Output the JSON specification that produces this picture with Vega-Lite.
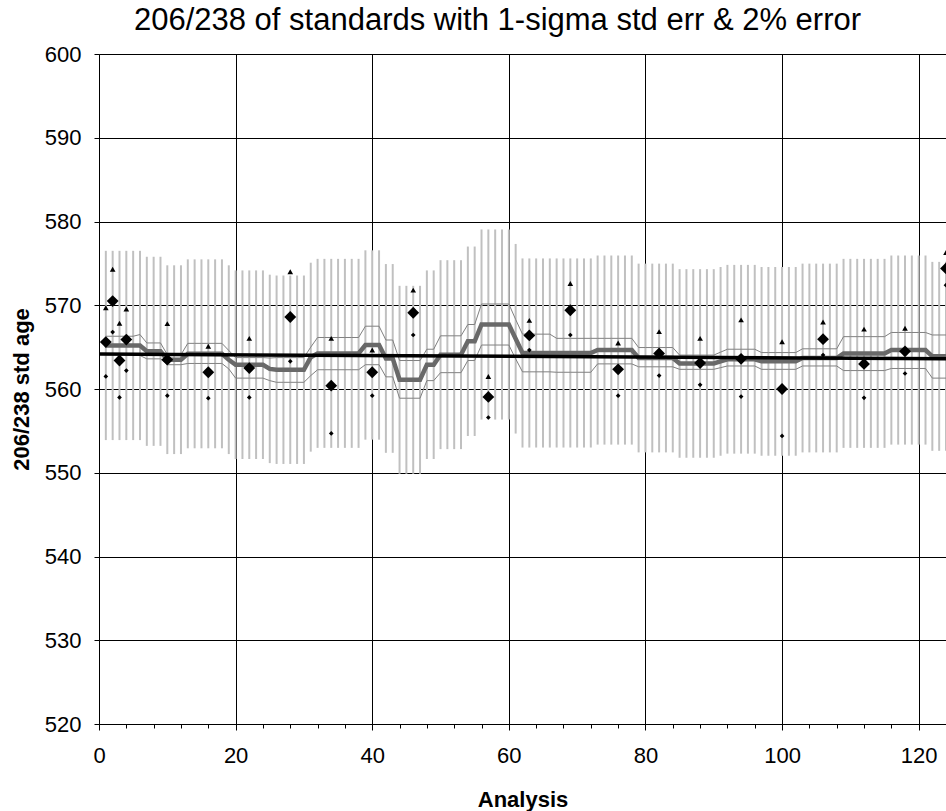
{
  "$schema": "https://vega.github.io/schema/vega-lite/v6.json",
  "width": 847,
  "height": 670,
  "autosize": "none",
  "padding": {"left": 99, "top": 54, "right": 0, "bottom": 87},
  "background": "white",
  "config": {
    "view": {"stroke": "#808080", "strokeWidth": 1},
    "font": "Liberation Sans",
    "axisY": {
      "labelFont": "Liberation Sans",
      "labelFontSize": 22,
      "labelColor": "black",
      "labelPadding": 13,
      "tickColor": "black",
      "tickSize": 5,
      "domainColor": "black",
      "domainWidth": 1,
      "grid": true,
      "gridColor": "black",
      "gridOpacity": 1,
      "gridWidth": 1,
      "titleFont": "Liberation Sans",
      "titleFontSize": 22,
      "titleFontWeight": "bold",
      "titleColor": "black",
      "titlePadding": 11
    }
  },
  "title": {
    "text": "206/238 of standards with 1-sigma std err & 2% error",
    "font": "Liberation Sans",
    "fontSize": 31,
    "fontWeight": "normal",
    "color": "black",
    "anchor": "middle",
    "dx": -25,
    "offset": 6
  },
  "datasets": {
    "s": [
      {"a":1,"m":565.2,"u":566.3,"l":564.1,"lo":553.9,"hi":576.5},
      {"a":2,"m":565.2,"u":566.3,"l":564.1,"lo":553.9,"hi":576.5},
      {"a":3,"m":565.2,"u":566.3,"l":564.1,"lo":553.9,"hi":576.5},
      {"a":4,"m":565.2,"u":566.3,"l":564.1,"lo":553.9,"hi":576.5},
      {"a":5,"m":565.2,"u":566.3,"l":564.1,"lo":553.9,"hi":576.5},
      {"a":6,"m":565.2,"u":566.5,"l":564.0,"lo":553.9,"hi":576.5},
      {"a":7,"m":564.5,"u":565.5,"l":563.6,"lo":553.21,"hi":575.79},
      {"a":8,"m":564.5,"u":565.5,"l":563.6,"lo":553.21,"hi":575.79},
      {"a":9,"m":564.5,"u":565.5,"l":563.6,"lo":553.21,"hi":575.79},
      {"a":10,"m":563.5,"u":564.1,"l":562.9,"lo":552.23,"hi":574.77},
      {"a":11,"m":563.5,"u":564.1,"l":562.9,"lo":552.23,"hi":574.77},
      {"a":12,"m":563.5,"u":564.1,"l":562.9,"lo":552.23,"hi":574.77},
      {"a":13,"m":564.2,"u":565.45,"l":563.05,"lo":552.92,"hi":575.48},
      {"a":14,"m":564.2,"u":565.45,"l":563.05,"lo":552.92,"hi":575.48},
      {"a":15,"m":564.2,"u":565.45,"l":563.05,"lo":552.92,"hi":575.48},
      {"a":16,"m":564.2,"u":565.45,"l":563.05,"lo":552.92,"hi":575.48},
      {"a":17,"m":564.2,"u":565.45,"l":563.05,"lo":552.92,"hi":575.48},
      {"a":18,"m":564.2,"u":565.45,"l":563.05,"lo":552.92,"hi":575.48},
      {"a":19,"m":563.5,"u":564.6,"l":562.4,"lo":552.23,"hi":574.77},
      {"a":20,"m":562.9,"u":563.75,"l":561.3,"lo":551.64,"hi":574.16},
      {"a":21,"m":562.9,"u":563.75,"l":561.3,"lo":551.64,"hi":574.16},
      {"a":22,"m":562.9,"u":563.75,"l":561.3,"lo":551.64,"hi":574.16},
      {"a":23,"m":562.9,"u":563.75,"l":561.3,"lo":551.64,"hi":574.16},
      {"a":24,"m":562.9,"u":563.75,"l":561.3,"lo":551.64,"hi":574.16},
      {"a":25,"m":562.4,"u":563.7,"l":561.0,"lo":551.15,"hi":573.65},
      {"a":26,"m":562.3,"u":563.75,"l":560.8,"lo":551.05,"hi":573.55},
      {"a":27,"m":562.3,"u":563.75,"l":560.8,"lo":551.05,"hi":573.55},
      {"a":28,"m":562.3,"u":563.75,"l":560.8,"lo":551.05,"hi":573.55},
      {"a":29,"m":562.3,"u":563.75,"l":560.8,"lo":551.05,"hi":573.55},
      {"a":30,"m":562.3,"u":563.75,"l":560.8,"lo":551.05,"hi":573.55},
      {"a":31,"m":563.8,"u":565.0,"l":561.6,"lo":552.52,"hi":575.08},
      {"a":32,"m":564.25,"u":566.15,"l":562.3,"lo":552.97,"hi":575.54},
      {"a":33,"m":564.25,"u":566.15,"l":562.3,"lo":552.97,"hi":575.54},
      {"a":34,"m":564.25,"u":566.15,"l":562.3,"lo":552.97,"hi":575.54},
      {"a":35,"m":564.25,"u":566.15,"l":562.3,"lo":552.97,"hi":575.54},
      {"a":36,"m":564.25,"u":566.15,"l":562.3,"lo":552.97,"hi":575.54},
      {"a":37,"m":564.25,"u":566.15,"l":562.3,"lo":552.97,"hi":575.54},
      {"a":38,"m":564.25,"u":566.15,"l":562.3,"lo":552.97,"hi":575.54},
      {"a":39,"m":565.25,"u":567.5,"l":562.9,"lo":553.95,"hi":576.56},
      {"a":40,"m":565.25,"u":567.5,"l":562.9,"lo":553.95,"hi":576.56},
      {"a":41,"m":565.25,"u":567.5,"l":562.9,"lo":553.95,"hi":576.56},
      {"a":42,"m":563.65,"u":565.85,"l":561.45,"lo":552.38,"hi":574.92},
      {"a":43,"m":563.65,"u":565.85,"l":561.45,"lo":552.38,"hi":574.92},
      {"a":44,"m":561.1,"u":563.4,"l":558.9,"lo":549.88,"hi":572.32},
      {"a":45,"m":561.1,"u":563.4,"l":558.9,"lo":549.88,"hi":572.32},
      {"a":46,"m":561.1,"u":563.4,"l":558.9,"lo":549.88,"hi":572.32},
      {"a":47,"m":561.1,"u":563.4,"l":558.9,"lo":549.88,"hi":572.32},
      {"a":48,"m":562.9,"u":564.75,"l":561.0,"lo":551.64,"hi":574.16},
      {"a":49,"m":562.9,"u":564.75,"l":561.0,"lo":551.64,"hi":574.16},
      {"a":50,"m":564.1,"u":566.35,"l":561.95,"lo":552.82,"hi":575.38},
      {"a":51,"m":564.1,"u":566.35,"l":561.95,"lo":552.82,"hi":575.38},
      {"a":52,"m":564.1,"u":566.35,"l":561.95,"lo":552.82,"hi":575.38},
      {"a":53,"m":564.1,"u":566.35,"l":561.95,"lo":552.82,"hi":575.38},
      {"a":54,"m":565.7,"u":567.7,"l":563.4,"lo":554.39,"hi":577.01},
      {"a":55,"m":565.7,"u":567.7,"l":563.4,"lo":554.39,"hi":577.01},
      {"a":56,"m":567.7,"u":570.15,"l":565.25,"lo":556.35,"hi":579.05},
      {"a":57,"m":567.7,"u":570.15,"l":565.25,"lo":556.35,"hi":579.05},
      {"a":58,"m":567.7,"u":570.15,"l":565.25,"lo":556.35,"hi":579.05},
      {"a":59,"m":567.7,"u":570.15,"l":565.25,"lo":556.35,"hi":579.05},
      {"a":60,"m":567.7,"u":570.15,"l":565.25,"lo":556.35,"hi":579.05},
      {"a":61,"m":566.0,"u":568.3,"l":563.6,"lo":554.68,"hi":577.32},
      {"a":62,"m":564.3,"u":566.55,"l":562.05,"lo":553.01,"hi":575.59},
      {"a":63,"m":564.3,"u":566.55,"l":562.05,"lo":553.01,"hi":575.59},
      {"a":64,"m":564.3,"u":566.55,"l":562.05,"lo":553.01,"hi":575.59},
      {"a":65,"m":564.3,"u":566.55,"l":562.05,"lo":553.01,"hi":575.59},
      {"a":66,"m":564.3,"u":566.55,"l":562.05,"lo":553.01,"hi":575.59},
      {"a":67,"m":564.3,"u":566.05,"l":562.0,"lo":553.01,"hi":575.59},
      {"a":68,"m":564.3,"u":566.05,"l":562.0,"lo":553.01,"hi":575.59},
      {"a":69,"m":564.3,"u":566.05,"l":562.0,"lo":553.01,"hi":575.59},
      {"a":70,"m":564.3,"u":566.05,"l":562.0,"lo":553.01,"hi":575.59},
      {"a":71,"m":564.3,"u":566.05,"l":562.0,"lo":553.01,"hi":575.59},
      {"a":72,"m":564.3,"u":566.05,"l":562.0,"lo":553.01,"hi":575.59},
      {"a":73,"m":564.65,"u":566.05,"l":563.0,"lo":553.36,"hi":575.94},
      {"a":74,"m":564.65,"u":566.05,"l":563.0,"lo":553.36,"hi":575.94},
      {"a":75,"m":564.65,"u":566.05,"l":563.0,"lo":553.36,"hi":575.94},
      {"a":76,"m":564.65,"u":566.05,"l":563.0,"lo":553.36,"hi":575.94},
      {"a":77,"m":564.65,"u":566.05,"l":563.0,"lo":553.36,"hi":575.94},
      {"a":78,"m":564.65,"u":566.05,"l":563.0,"lo":553.36,"hi":575.94},
      {"a":79,"m":563.7,"u":564.95,"l":562.65,"lo":552.43,"hi":574.97},
      {"a":80,"m":563.7,"u":564.95,"l":562.65,"lo":552.43,"hi":574.97},
      {"a":81,"m":563.7,"u":564.95,"l":562.65,"lo":552.43,"hi":574.97},
      {"a":82,"m":563.7,"u":564.95,"l":562.65,"lo":552.43,"hi":574.97},
      {"a":83,"m":563.7,"u":564.95,"l":562.65,"lo":552.43,"hi":574.97},
      {"a":84,"m":563.7,"u":564.95,"l":562.65,"lo":552.43,"hi":574.97},
      {"a":85,"m":563.05,"u":564.05,"l":562.35,"lo":551.79,"hi":574.31},
      {"a":86,"m":563.05,"u":564.05,"l":562.35,"lo":551.79,"hi":574.31},
      {"a":87,"m":563.05,"u":564.05,"l":562.35,"lo":551.79,"hi":574.31},
      {"a":88,"m":563.05,"u":564.05,"l":562.35,"lo":551.79,"hi":574.31},
      {"a":89,"m":563.05,"u":564.05,"l":562.35,"lo":551.79,"hi":574.31},
      {"a":90,"m":563.05,"u":564.05,"l":562.35,"lo":551.79,"hi":574.31},
      {"a":91,"m":563.3,"u":564.4,"l":562.55,"lo":552.03,"hi":574.57},
      {"a":92,"m":563.55,"u":564.75,"l":562.75,"lo":552.28,"hi":574.82},
      {"a":93,"m":563.55,"u":564.75,"l":562.75,"lo":552.28,"hi":574.82},
      {"a":94,"m":563.55,"u":564.75,"l":562.75,"lo":552.28,"hi":574.82},
      {"a":95,"m":563.55,"u":564.75,"l":562.75,"lo":552.28,"hi":574.82},
      {"a":96,"m":563.55,"u":564.75,"l":562.75,"lo":552.28,"hi":574.82},
      {"a":97,"m":563.3,"u":564.35,"l":562.35,"lo":552.03,"hi":574.57},
      {"a":98,"m":563.3,"u":564.35,"l":562.35,"lo":552.03,"hi":574.57},
      {"a":99,"m":563.3,"u":564.35,"l":562.35,"lo":552.03,"hi":574.57},
      {"a":100,"m":563.3,"u":564.35,"l":562.35,"lo":552.03,"hi":574.57},
      {"a":101,"m":563.3,"u":564.35,"l":562.35,"lo":552.03,"hi":574.57},
      {"a":102,"m":563.3,"u":564.35,"l":562.35,"lo":552.03,"hi":574.57},
      {"a":103,"m":563.7,"u":564.8,"l":562.75,"lo":552.43,"hi":574.97},
      {"a":104,"m":563.7,"u":564.8,"l":562.75,"lo":552.43,"hi":574.97},
      {"a":105,"m":563.7,"u":564.8,"l":562.75,"lo":552.43,"hi":574.97},
      {"a":106,"m":563.7,"u":564.8,"l":562.75,"lo":552.43,"hi":574.97},
      {"a":107,"m":563.7,"u":564.8,"l":562.75,"lo":552.43,"hi":574.97},
      {"a":108,"m":563.7,"u":564.8,"l":562.75,"lo":552.43,"hi":574.97},
      {"a":109,"m":564.25,"u":566.25,"l":562.2,"lo":552.97,"hi":575.54},
      {"a":110,"m":564.25,"u":566.25,"l":562.2,"lo":552.97,"hi":575.54},
      {"a":111,"m":564.25,"u":566.25,"l":562.2,"lo":552.97,"hi":575.54},
      {"a":112,"m":564.25,"u":566.25,"l":562.2,"lo":552.97,"hi":575.54},
      {"a":113,"m":564.25,"u":566.25,"l":562.2,"lo":552.97,"hi":575.54},
      {"a":114,"m":564.25,"u":566.25,"l":562.2,"lo":552.97,"hi":575.54},
      {"a":115,"m":564.25,"u":566.25,"l":562.2,"lo":552.97,"hi":575.54},
      {"a":116,"m":564.65,"u":566.75,"l":562.45,"lo":553.36,"hi":575.94},
      {"a":117,"m":564.65,"u":566.75,"l":562.45,"lo":553.36,"hi":575.94},
      {"a":118,"m":564.65,"u":566.75,"l":562.45,"lo":553.36,"hi":575.94},
      {"a":119,"m":564.65,"u":566.75,"l":562.45,"lo":553.36,"hi":575.94},
      {"a":120,"m":564.65,"u":566.75,"l":562.45,"lo":553.36,"hi":575.94},
      {"a":121,"m":564.65,"u":566.75,"l":562.45,"lo":553.36,"hi":575.94},
      {"a":122,"m":563.9,"u":566.45,"l":561.3,"lo":552.62,"hi":575.18},
      {"a":123,"m":563.9,"u":566.45,"l":561.3,"lo":552.62,"hi":575.18},
      {"a":124,"m":563.9,"u":566.45,"l":561.3,"lo":552.62,"hi":575.18}
    ],
    "r": [
      {"a":0,"r":564.18},
      {"a":124,"r":563.6}
    ],
    "p": [
      {"a":1,"v":565.6,"up":569.7,"dn":561.5},
      {"a":2,"v":570.5,"up":574.3,"dn":566.8},
      {"a":3,"v":563.4,"up":567.85,"dn":559.0},
      {"a":4,"v":565.9,"up":569.55,"dn":562.2},
      {"a":10,"v":563.5,"up":567.8,"dn":559.2},
      {"a":16,"v":562.0,"up":565.1,"dn":558.9},
      {"a":22,"v":562.5,"up":566.05,"dn":559.0},
      {"a":28,"v":568.6,"up":574.0,"dn":563.3},
      {"a":34,"v":560.4,"up":566.05,"dn":554.7},
      {"a":40,"v":562.0,"up":564.65,"dn":559.2},
      {"a":46,"v":569.1,"up":571.8,"dn":566.45},
      {"a":57,"v":559.05,"up":561.5,"dn":556.6},
      {"a":63,"v":566.4,"up":568.2,"dn":564.65},
      {"a":69,"v":569.4,"up":572.6,"dn":566.45},
      {"a":76,"v":562.35,"up":565.5,"dn":559.2},
      {"a":82,"v":564.25,"up":566.85,"dn":561.6},
      {"a":88,"v":563.1,"up":566.05,"dn":560.5},
      {"a":94,"v":563.6,"up":568.25,"dn":559.1},
      {"a":100,"v":560.0,"up":565.65,"dn":554.4},
      {"a":106,"v":565.95,"up":568.0,"dn":564.05},
      {"a":112,"v":563.0,"up":567.15,"dn":558.95},
      {"a":118,"v":564.5,"up":567.25,"dn":561.85},
      {"a":124,"v":574.4,"up":576.3,"dn":572.4}
    ]
  },
  "encoding": {
    "x": {
      "field": "a",
      "type": "quantitative",
      "title": "Analysis",
      "scale": {"domain": [0, 124], "nice": false, "zero": false},
      "axis": {
        "values": [0,4,8,12,16,20,24,28,32,36,40,44,48,52,56,60,64,68,72,76,80,84,88,92,96,100,104,108,112,116,120],
        "labelExpr": "datum.value % 20 === 0 ? datum.label : ''",
        "labelOverlap": false,
        "labelFlush": false,
        "labelFont": "Liberation Sans",
        "labelFontSize": 22,
        "labelColor": "black",
        "labelPadding": 15,
        "tickColor": "black",
        "tickSize": {"condition": {"test": "datum.value % 20 === 0", "value": 6}, "value": 4},
        "domainColor": "black",
        "domainWidth": 1,
        "grid": true,
        "gridColor": "black",
        "gridWidth": 1,
        "gridOpacity": {"condition": {"test": "datum.value % 20 === 0 && datum.value > 0", "value": 1}, "value": 0},
        "titleFont": "Liberation Sans",
        "titleFontSize": 22,
        "titleFontWeight": "bold",
        "titleColor": "black",
        "titlePadding": 23
      }
    }
  },
  "layer": [
    {
      "data": {"name": "s"},
      "mark": {"type": "rule", "color": "#c0c0c0", "strokeWidth": 2},
      "encoding": {
        "y": {"field": "lo", "type": "quantitative", "title": "206/238 std age", "scale": {"domain": [520, 600], "nice": false, "zero": false}, "axis": {"values": [520,530,540,550,560,570,580,590,600]}},
        "y2": {"field": "hi"}
      }
    },
    {
      "data": {"name": "s"},
      "mark": {"type": "line", "color": "#808080", "strokeWidth": 1},
      "encoding": {
        "y": {"field": "u", "type": "quantitative", "title": "206/238 std age", "scale": {"domain": [520, 600], "nice": false, "zero": false}, "axis": {"values": [520,530,540,550,560,570,580,590,600]}}
      }
    },
    {
      "data": {"name": "s"},
      "mark": {"type": "line", "color": "#808080", "strokeWidth": 1},
      "encoding": {
        "y": {"field": "l", "type": "quantitative", "title": "206/238 std age", "scale": {"domain": [520, 600], "nice": false, "zero": false}, "axis": {"values": [520,530,540,550,560,570,580,590,600]}}
      }
    },
    {
      "data": {"name": "s"},
      "mark": {"type": "line", "color": "#696969", "strokeWidth": 4.5},
      "encoding": {
        "y": {"field": "m", "type": "quantitative", "title": "206/238 std age", "scale": {"domain": [520, 600], "nice": false, "zero": false}, "axis": {"values": [520,530,540,550,560,570,580,590,600]}}
      }
    },
    {
      "data": {"name": "r"},
      "mark": {"type": "line", "color": "black", "strokeWidth": 3.5},
      "encoding": {
        "y": {"field": "r", "type": "quantitative", "title": "206/238 std age", "scale": {"domain": [520, 600], "nice": false, "zero": false}, "axis": {"values": [520,530,540,550,560,570,580,590,600]}}
      }
    },
    {
      "data": {"name": "p"},
      "mark": {"type": "point", "shape": "triangle-up", "filled": true, "color": "black", "size": 32, "opacity": 1},
      "encoding": {
        "y": {"field": "up", "type": "quantitative", "title": "206/238 std age", "scale": {"domain": [520, 600], "nice": false, "zero": false}, "axis": {"values": [520,530,540,550,560,570,580,590,600]}}
      }
    },
    {
      "data": {"name": "p"},
      "mark": {"type": "point", "shape": "diamond", "filled": true, "color": "black", "size": 22, "opacity": 1},
      "encoding": {
        "y": {"field": "dn", "type": "quantitative", "title": "206/238 std age", "scale": {"domain": [520, 600], "nice": false, "zero": false}, "axis": {"values": [520,530,540,550,560,570,580,590,600]}}
      }
    },
    {
      "data": {"name": "p"},
      "mark": {"type": "point", "shape": "diamond", "filled": true, "color": "black", "size": 140, "opacity": 1},
      "encoding": {
        "y": {"field": "v", "type": "quantitative", "title": "206/238 std age", "scale": {"domain": [520, 600], "nice": false, "zero": false}, "axis": {"values": [520,530,540,550,560,570,580,590,600]}}
      }
    }
  ]
}
